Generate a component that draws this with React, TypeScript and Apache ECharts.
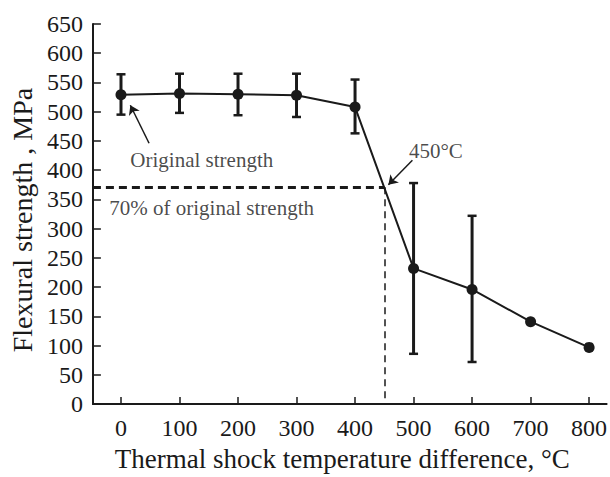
import React, { useEffect, useRef } from "react";
import * as echarts from "echarts";

// ---- data ----
const temperatures = [0, 100, 200, 300, 400, 500, 600, 700, 800];
const strength = [529, 531, 530, 528, 508, 232, 196, 141, 97];
const errLow = [495, 498, 494, 491, 463, 86, 72, null, null];
const errHigh = [564, 565, 565, 565, 555, 378, 322, null, null];
const xTicks = [0, 100, 200, 300, 400, 500, 600, 700, 800];
const thresholdStrength = 371; // 70% of original strength
const thresholdTemp = 450;

const FONT = "Liberation Serif";
const INK = "#1a1a1a";

export default function App() {
  const ref = useRef<HTMLDivElement>(null);

  useEffect(() => {
    document.body.style.margin = "0";
    if (!ref.current) return;
    const chart = echarts.init(ref.current, undefined, { renderer: "svg" });

    const errData = temperatures
      .map((t, i) => [t, errLow[i], errHigh[i]])
      .filter((d) => d[1] != null && d[2] != null);

    const option: any = {
      animation: false,
      backgroundColor: "#ffffff",
      textStyle: { fontFamily: FONT },
      grid: { left: 90, right: 0, top: 24, bottom: 60, containLabel: false },
      xAxis: {
        type: "value",
        min: -48,
        max: 830,
        name: "Thermal shock temperature difference, °C",
        nameLocation: "middle",
        nameGap: 33,
        nameTextStyle: {
          fontFamily: FONT,
          fontSize: 27,
          color: INK,
          padding: [0, 15, 0, 0],
        },
        axisLine: { onZero: false, lineStyle: { color: INK, width: 2 } },
        axisTick: {
          inside: true,
          length: 7,
          customValues: xTicks,
          lineStyle: { color: INK, width: 1.5 },
        },
        axisLabel: {
          customValues: xTicks,
          fontFamily: FONT,
          fontSize: 24,
          color: INK,
          margin: 12,
        },
        splitLine: { show: false },
      },
      yAxis: {
        type: "value",
        min: 0,
        max: 650,
        interval: 50,
        name: "Flexural strength , MPa",
        nameLocation: "middle",
        nameGap: 56,
        nameTextStyle: {
          fontFamily: FONT,
          fontSize: 28,
          color: INK,
          padding: [0, 12, 0, 0],
        },
        axisLine: { onZero: false, lineStyle: { color: INK, width: 2 } },
        axisTick: { inside: true, length: 8, lineStyle: { color: INK, width: 1.5 } },
        axisLabel: { fontFamily: FONT, fontSize: 24, color: INK, margin: 10 },
        splitLine: { show: false },
      },
      series: [
        {
          type: "custom",
          name: "error",
          z: 1,
          data: errData,
          encode: { x: 0, y: [1, 2] },
          renderItem: (params: any, api: any) => {
            const x = api.value(0);
            const lo = api.coord([x, api.value(1)]);
            const hi = api.coord([x, api.value(2)]);
            const cap = 4.5;
            const style = { stroke: INK, lineWidth: 3 };
            return {
              type: "group",
              children: [
                { type: "line", shape: { x1: lo[0], y1: lo[1], x2: hi[0], y2: hi[1] }, style },
                { type: "line", shape: { x1: hi[0] - cap, y1: hi[1], x2: hi[0] + cap, y2: hi[1] }, style: { stroke: INK, lineWidth: 2.5 } },
                { type: "line", shape: { x1: lo[0] - cap, y1: lo[1], x2: lo[0] + cap, y2: lo[1] }, style: { stroke: INK, lineWidth: 2.5 } },
              ],
            };
          },
        },
        {
          type: "line",
          name: "strength",
          z: 3,
          data: temperatures.map((t, i) => [t, strength[i]]),
          symbol: "circle",
          symbolSize: 11,
          itemStyle: { color: INK },
          lineStyle: { color: INK, width: 2 },
        },
        {
          type: "line",
          name: "threshold",
          data: [],
          z: 2,
          markLine: {
            silent: true,
            symbol: ["none", "none"],
            label: { show: false },
            data: [
              [
                { coord: [-48, thresholdStrength], lineStyle: { color: INK, width: 3, type: [8, 5] } },
                { coord: [thresholdTemp, thresholdStrength] },
              ],
              [
                { coord: [thresholdTemp, thresholdStrength], lineStyle: { color: INK, width: 1.5, type: [7, 5] } },
                { coord: [thresholdTemp, 0] },
              ],
            ],
          },
        },
        {
          type: "line",
          name: "arrows",
          data: [],
          z: 4,
          itemStyle: { color: INK },
          markLine: {
            silent: true,
            symbol: ["none", "arrow"],
            symbolSize: 9,
            label: { show: false },
            itemStyle: { color: INK },
            lineStyle: { color: INK, width: 1.5, type: "solid" },
            data: [
              [{ coord: [48, 446] }, { coord: [16, 511] }],
              [{ coord: [498, 417] }, { coord: [457, 375] }],
            ],
          },
        },
        {
          type: "scatter",
          name: "notes",
          z: 5,
          symbolSize: 0,
          data: [
            [16, 417, "Original strength"],
            [-20, 335, "70% of original strength"],
            [492, 433, "450°C"],
          ],
          label: {
            show: true,
            position: "right",
            distance: 0,
            formatter: (p: any) => p.value[2],
            fontFamily: FONT,
            fontSize: 21,
            color: INK,
          },
        },
      ],
    };

    chart.setOption(option);
    return () => chart.dispose();
  }, []);

  return <div ref={ref} style={{ width: 610, height: 477 }} />;
}
